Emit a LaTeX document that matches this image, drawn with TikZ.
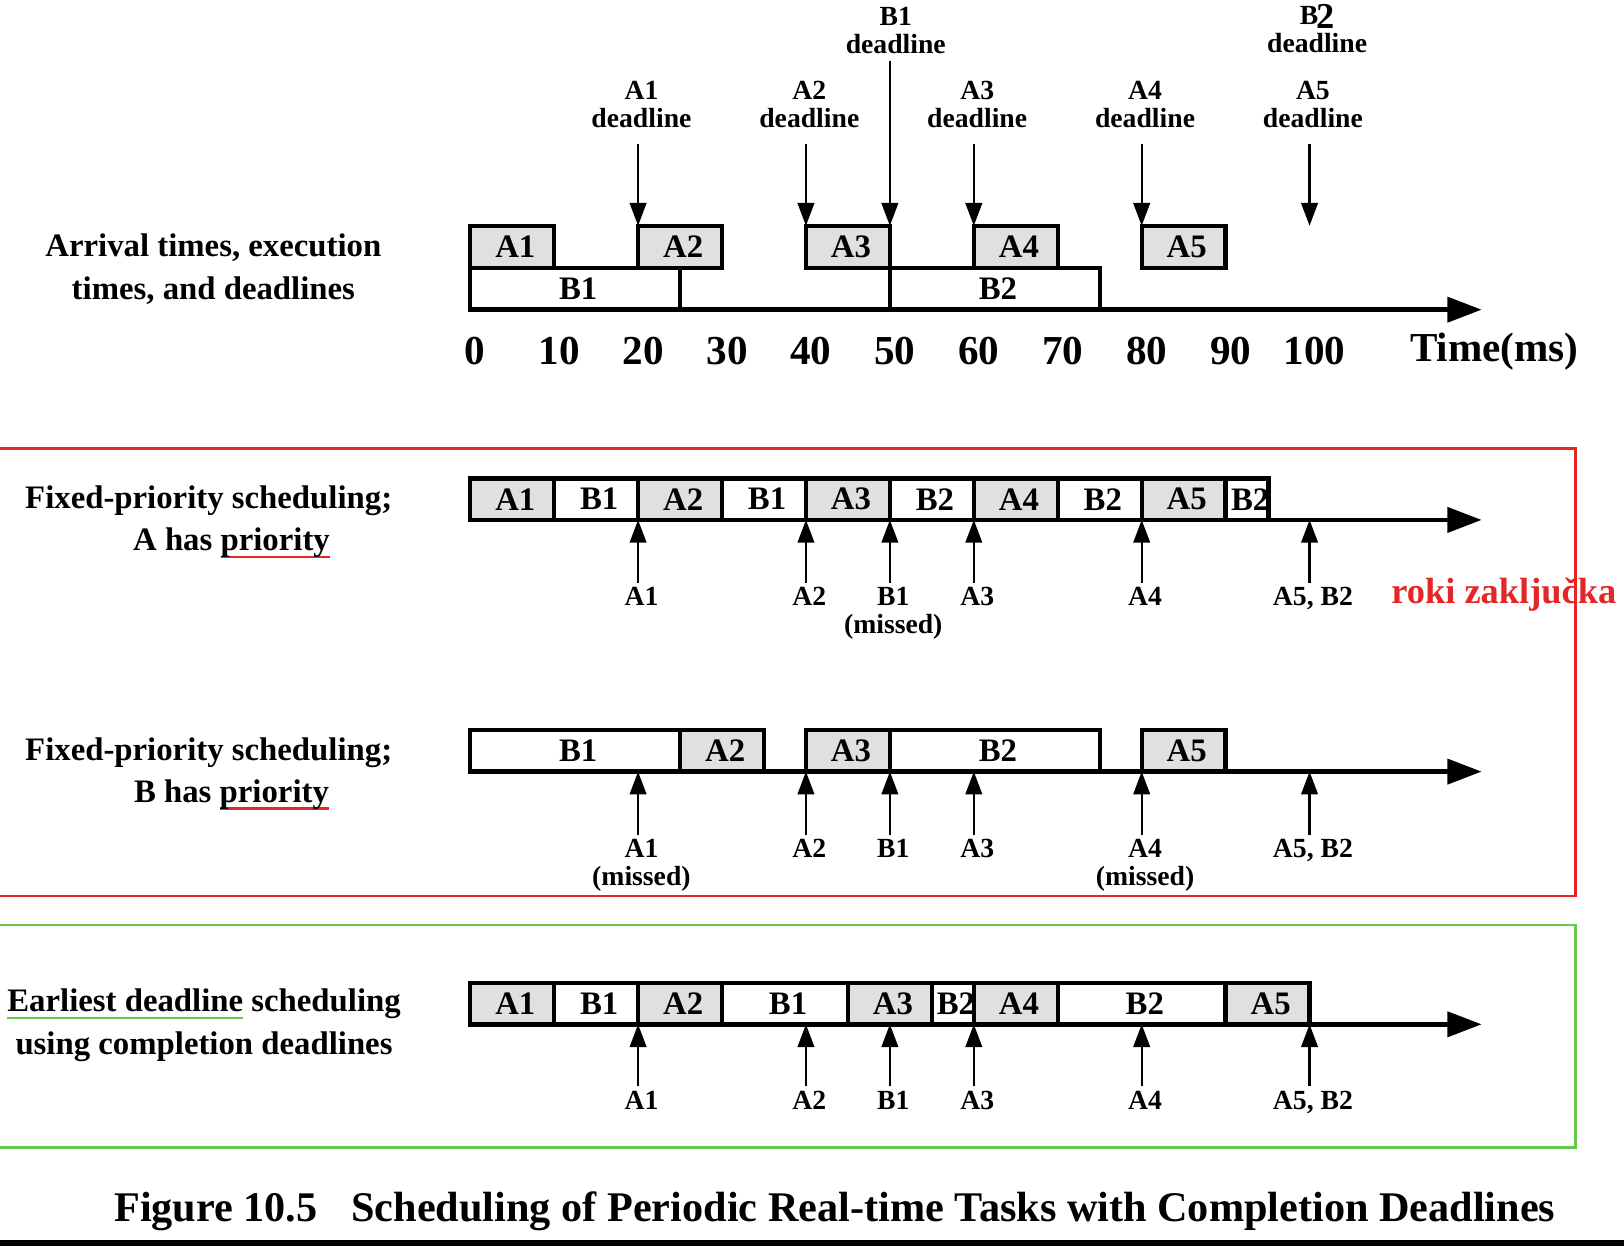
\documentclass[tikz,border=0pt]{standalone}
\usepackage{fontspec}
\setmainfont{Liberation Serif}
\usepackage{xcolor}
\usepackage{tikz}
\usetikzlibrary{
  positioning,
  calc,
  arrows.meta
}

\definecolor{markred}{RGB}{228,38,38}
\definecolor{markgreen}{RGB}{104,200,78}
\definecolor{taskgray}{RGB}{224,224,224}

% 色付きの下線
\newsavebox\ulbox
\newcommand{\ulcol}[2]{\sbox\ulbox{#2}\rlap{\textcolor{#1}{\rule[-2pt]{\wd\ulbox}{0.7pt}}}\usebox\ulbox}

\tikzset{
  slot/.style={draw,line width=1.2pt},
  timeaxis/.style={line width=1.2pt,-{Triangle[length=3.3mm,width=2.4mm]}},
  thinarrow/.style={line width=0.6pt},
  small/.style={font=\bfseries\fontsize{7.6}{7.7}\selectfont,align=center,inner sep=1pt},
  tasklbl/.style={font=\bfseries\fontsize{9}{10}\selectfont,inner sep=0pt,xshift=0.03cm},
  ticklbl/.style={font=\bfseries\fontsize{11.3}{12}\selectfont},
  rowlbl/.style={font=\bfseries\fontsize{9}{11.6}\selectfont,align=center}
}

\begin{document}
\begin{tikzpicture}[x=0.01cm,y=-0.01cm,>={Triangle[length=2.2mm,width=1.6mm]}]
  \fill[white] (0,0) rectangle (1568,1203);
  \useasboundingbox (0,0) rectangle (1568,1203);
  % 枠
  \draw[markred,line width=0.7pt] (-5,433) rectangle (1521,865);
  \draw[markgreen,line width=0.7pt] (-5,893) rectangle (1521,1108);
  % 左の説明
  \node[rowlbl] (lbl-arr) at (206,260) {Arrival times, execution\\times, and deadlines};
  \node[rowlbl] (lbl-fa) at (201.5,504) {Fixed-priority scheduling;\\\hspace*{0.44cm}A has \ulcol{markred}{priority}};
  \node[rowlbl] (lbl-fb) at (201.5,747) {Fixed-priority scheduling;\\\hspace*{0.44cm}B has \ulcol{markred}{priority}};
  \node[rowlbl] (lbl-ed) at (197,990) {\ulcol{markgreen}{Earliest deadline} scheduling\\using completion deadlines};
  \node[font=\bfseries\fontsize{10}{12}\selectfont,text=markred] (note) at (1452,574) {roki zaključka};
  % 時間軸 (1単位 = 1ms)
  \begin{scope}[shift={(454,0)},x=0.081cm]
    % 到着時刻・実行時間
    \foreach \s/\l in {0/A1,20/A2,40/A3,60/A4,80/A5}
      \draw[slot,fill=taskgray] (\s,218) rectangle node[tasklbl] (arr-\l) {\l} (\s+10,259);
    \draw[slot,fill=white] (0,259) rectangle node[tasklbl] (arr-B1) {B1} (25,299);
    \draw[slot,fill=white] (50,259) rectangle node[tasklbl] (arr-B2) {B2} (75,299);
    \draw[timeaxis] (0,299) -- (120.5,299);
    % 締切
    \foreach \t/\l in {20/A1,40/A2,60/A3,80/A4,100/A5} {
      \coordinate (dt-\l) at (\t,218);
      \node[small] (dl-\l) at (\t+0.4,101) {\l\\deadline};
      \draw[->,thinarrow] ($(dl-\l.south -| dt-\l)+(0,11)$) -- (dt-\l);
    }
    \coordinate (dt-B1) at (50,218);
    \node[small] (dl-B1) at (50.7,29) {B1\\deadline};
    \draw[->,thinarrow] ($(dl-B1.south -| dt-B1)+(0,3)$) -- (dt-B1);
    \node[small] (dl-B2) at (100.9,29) {B\kern-0.6pt\smash{\raisebox{-1pt}{\fontsize{10}{10}\selectfont 2}}\\deadline};
    % 目盛り
    \foreach \t in {0,10,...,100}
      \node[ticklbl] (tk-\t) at (\t+0.6,339) {\t};
    \node[ticklbl] (tk-unit) at (122,339) {Time(ms)};

    % 固定優先度 (A優先)
    \foreach \s/\e/\l/\c [count=\i] in {0/10/A1/taskgray,10/20/B1/white,20/30/A2/taskgray,30/40/B1/white,40/50/A3/taskgray,50/60/B2/white,60/70/A4/taskgray,70/80/B2/white,80/90/A5/taskgray,90/95.1/B2/white}
      \draw[slot,fill=\c] (\s,462) rectangle node[tasklbl] (fa-\i) {\l} (\e,502);
    \draw[timeaxis] (0,502) -- (120.5,502);
    \foreach \t/\l [count=\i] in {20/A1,40/A2,50/{B1\\(missed)},60/A3,80/A4,100/{A5, B2}} {
      \coordinate (fap-\i) at (\t,502);
      \node[small,anchor=north] (fal-\i) at (\t+0.4,563) {\l};
      \draw[->,thinarrow] (fal-\i.north -| fap-\i) -- (fap-\i);
    }

    % 固定優先度 (B優先)
    \foreach \s/\e/\l/\c [count=\i] in {0/25/B1/white,25/35/A2/taskgray,40/50/A3/taskgray,50/75/B2/white,80/90/A5/taskgray}
      \draw[slot,fill=\c] (\s,705) rectangle node[tasklbl] (fb-\i) {\l} (\e,745);
    \draw[timeaxis] (0,745) -- (120.5,745);
    \foreach \t/\l [count=\i] in {20/{A1\\(missed)},40/A2,50/B1,60/A3,80/{A4\\(missed)},100/{A5, B2}} {
      \coordinate (fbp-\i) at (\t,745);
      \node[small,anchor=north] (fbl-\i) at (\t+0.4,806) {\l};
      \draw[->,thinarrow] (fbl-\i.north -| fbp-\i) -- (fbp-\i);
    }

    % 最早締切
    \foreach \s/\e/\l/\c [count=\i] in {0/10/A1/taskgray,10/20/B1/white,20/30/A2/taskgray,30/45/B1/white,45/55/A3/taskgray,55/60/B2/white,60/70/A4/taskgray,70/90/B2/white,90/100/A5/taskgray}
      \draw[slot,fill=\c] (\s,949) rectangle node[tasklbl] (ed-\i) {\l} (\e,989);
    \draw[timeaxis] (0,989) -- (120.5,989);
    \foreach \t/\l [count=\i] in {20/A1,40/A2,50/B1,60/A3,80/A4,100/{A5, B2}} {
      \coordinate (edp-\i) at (\t,989);
      \node[small,anchor=north] (edl-\i) at (\t+0.4,1049) {\l};
      \draw[->,thinarrow] (edl-\i.north -| edp-\i) -- (edp-\i);
    }
  \end{scope}
  % 図の題
  \node[font=\bfseries\fontsize{11.6}{13}\selectfont] (caption) at (806,1170) {Figure 10.5\hspace{0.8em}Scheduling of Periodic Real-time Tasks with Completion Deadlines};
  \fill (0,1197) rectangle (1568,1203);
\end{tikzpicture}
\end{document}
